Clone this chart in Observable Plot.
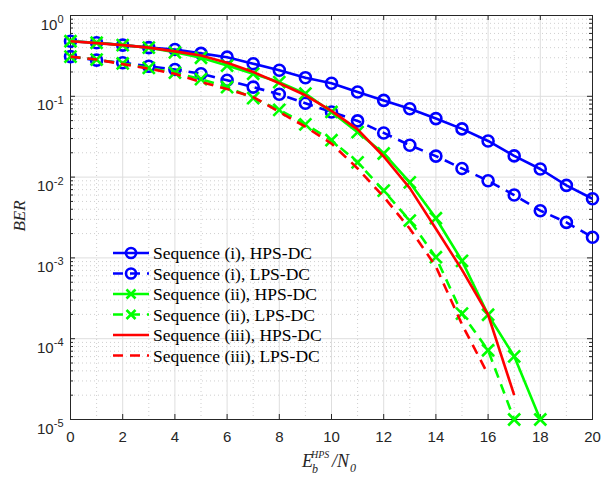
<!DOCTYPE html>
<html>
<head>
<meta charset="utf-8">
<script src="https://cdn.jsdelivr.net/npm/d3@7"></script>
<script src="https://cdn.jsdelivr.net/npm/@observablehq/plot@0.6"></script>
<style>
  html, body { margin: 0; padding: 0; background: #ffffff; }
  #chart { width: 601px; height: 479px; }
</style>
</head>
<body>
<div id="chart"></div>
<script>
// ---------------- data ----------------
const snr = [0,1,2,3,4,5,6,7,8,9,10,11,12,13,14,15,16,17,18,19,20];
const seqIHPS = [0.48,0.46,0.43,0.40,0.38,0.34,0.305,0.253,0.21,0.17,0.145,0.113,0.089,0.070,0.053,0.0395,0.028,0.0183,0.0126,0.0079,0.0054];
const seqILPS = [0.31,0.28,0.26,0.235,0.215,0.19,0.158,0.13,0.106,0.082,0.064,0.0496,0.0352,0.0248,0.0182,0.0128,0.009,0.006,0.00384,0.00275,0.0018];
const seqIIHPS = [0.48,0.46,0.43,0.40,0.35,0.30,0.24,0.19,0.15,0.108,0.064,0.036,0.0196,0.0086,0.0031,0.00092,0.000198,0.0000605,0.00001];
const seqIILPS = [0.31,0.285,0.255,0.225,0.196,0.163,0.13,0.095,0.068,0.045,0.0286,0.0152,0.0068,0.0029,0.00102,0.000204,0.000072,0.00001];
const seqIIIHPS = [0.48,0.455,0.43,0.40,0.36,0.32,0.26,0.20,0.145,0.103,0.066,0.039,0.018,0.0073,0.0023,0.00071,0.000198,0.00002];
const seqIIILPS = [0.31,0.285,0.25,0.22,0.19,0.15,0.123,0.098,0.064,0.042,0.026,0.0128,0.0057,0.0023,0.00078,0.00015,0.000036];

const seriesNames = ["Sequence (i), HPS-DC","Sequence (i), LPS-DC","Sequence (ii), HPS-DC","Sequence (ii), LPS-DC","Sequence (iii), HPS-DC","Sequence (iii), LPS-DC"];
const seriesValues = [seqIHPS, seqILPS, seqIIHPS, seqIILPS, seqIIIHPS, seqIIILPS];
const seriesColors = ["#0000ff","#0000ff","#00ff00","#00ff00","#ff0000","#ff0000"];
const seriesDashed = [false,true,false,true,false,true];
const seriesMarker = ["circle","circle","times","times",null,null];

const xMajorTicks = [0,2,4,6,8,10,12,14,16,18,20];
const xMinorTicks = [1,3,5,7,9,11,13,15,17,19];
const yMajorTicks = [1e-5,1e-4,1e-3,1e-2,1e-1,1];
const yMinorTicks = [];
for (let e = -5; e < 0; e++) for (let m = 2; m <= 9; m++) yMinorTicks.push(m * Math.pow(10, e));

// ---------------- layout ----------------
const W = 601, H = 479;
const mL = 70, mR = 9, mT = 15, mB = 60;
const innerW = W - mL - mR, innerH = H - mT - mB;
const axisColor = "#262626";
const DASH = "10,7";

const tables = seriesValues.map((vals, i) => vals.map((v, j) => ({x: snr[j], y: v, s: i})));

const marks = [
  Plot.ruleY(yMinorTicks, {stroke: "#cfcfcf", strokeDasharray: "1,3"}),
  Plot.ruleX(xMinorTicks, {stroke: "#cfcfcf", strokeDasharray: "1,3"}),
  Plot.ruleY(yMajorTicks, {stroke: "#dedede"}),
  Plot.ruleX(xMajorTicks, {stroke: "#dedede"}),
  Plot.ruleX(xMajorTicks, {stroke: axisColor, insetTop: innerH - 5}),
  Plot.ruleX(xMajorTicks, {stroke: axisColor, insetBottom: innerH - 5}),
  Plot.ruleY(yMajorTicks, {stroke: axisColor, insetRight: innerW - 5}),
  Plot.ruleY(yMajorTicks, {stroke: axisColor, insetLeft: innerW - 5}),
  Plot.ruleY(yMinorTicks, {stroke: axisColor, insetRight: innerW - 3}),
  Plot.ruleY(yMinorTicks, {stroke: axisColor, insetLeft: innerW - 3}),
  Plot.frame({stroke: axisColor}),
  Plot.axisX({ticks: xMajorTicks, tickSize: 0, tickPadding: 12, fill: axisColor, fontSize: 15, tickFormat: d => String(d)}),
  Plot.axisY({ticks: yMajorTicks, tickSize: 0, tickPadding: 7, fill: axisColor, fontSize: 15, tickFormat: d => "10^" + Math.round(Math.log10(d))})
];

tables.forEach((t, i) => {
  marks.push(Plot.line(t, {x: "x", y: "y", stroke: seriesColors[i], strokeWidth: 2.6,
    strokeDasharray: seriesDashed[i] ? DASH : null, strokeLinejoin: "round", strokeLinecap: "butt"}));
  if (seriesMarker[i] === "circle") {
    marks.push(Plot.dot(t, {x: "x", y: "y", r: 5.5, stroke: seriesColors[i], strokeWidth: 2.6, fill: "none"}));
  } else if (seriesMarker[i] === "times") {
    marks.push(Plot.dot(t, {x: "x", y: "y", symbol: "times", r: 5.5, stroke: seriesColors[i], strokeWidth: 2.6, fill: "none"}));
  }
});

const svg = Plot.plot({
  width: W, height: H,
  marginLeft: mL, marginRight: mR, marginTop: mT, marginBottom: mB,
  style: {background: "#ffffff", fontFamily: "'Liberation Sans', Arial, sans-serif", fontSize: "15px", overflow: "visible"},
  x: {domain: [0, 20], label: null},
  y: {type: "log", domain: [1e-5, 1], label: null},
  marks
});

// superscript exponents for y tick labels
d3.select(svg).selectAll('[aria-label="y-axis tick label"] text').each(function() {
  const txt = this.textContent;
  const m = txt.match(/^10\^(-?\d+)$/);
  if (!m) return;
  const el = d3.select(this);
  el.text(null).attr("dy", "0.62em").attr("font-size", "15px");
  el.append("tspan").attr("font-size", "15px").text("10");
  el.append("tspan").attr("dy", "-0.6em").attr("font-size", "11px").text(m[1]);
});

const serif = "'Liberation Serif', 'Times New Roman', serif";
const g = d3.select(svg).append("g").attr("text-anchor", "start");

// y label
g.append("text")
  .attr("transform", "translate(25,216) rotate(-90)")
  .attr("text-anchor", "middle")
  .attr("font-family", serif)
  .attr("font-style", "italic")
  .attr("font-size", 17)
  .attr("fill", axisColor)
  .text("BER");

// x label E_b^{HPS}/N_0
const xl = g.append("g").attr("font-family", serif).attr("font-style", "italic").attr("fill", axisColor).attr("text-anchor", "start");
xl.append("text").attr("x", 302).attr("y", 467).attr("font-size", 18).text("E");
xl.append("text").attr("x", 312).attr("y", 473).attr("font-size", 12).text("b");
xl.append("text").attr("x", 311).attr("y", 458).attr("font-size", 10).text("HPS");
const nt = xl.append("text").attr("x", 332).attr("y", 467).attr("font-size", 18);
nt.append("tspan").text("/N");
nt.append("tspan").attr("dy", 5).attr("dx", 1).attr("font-size", 12).text("0");

// legend
const lg = g.append("g").attr("text-anchor", "start");
const legX0 = 113, legX1 = 149, legY0 = 253, legDY = 20.5;
seriesNames.forEach((name, i) => {
  const y = legY0 + i * legDY;
  lg.append("line").attr("x1", legX0).attr("x2", legX1).attr("y1", y).attr("y2", y)
    .attr("stroke", seriesColors[i]).attr("stroke-width", 2.6)
    .attr("stroke-dasharray", seriesDashed[i] ? DASH : null);
  const cx = (legX0 + legX1) / 2;
  if (seriesMarker[i] === "circle") {
    lg.append("circle").attr("cx", cx).attr("cy", y).attr("r", 5).attr("fill", "none")
      .attr("stroke", seriesColors[i]).attr("stroke-width", 2.6);
  } else if (seriesMarker[i] === "times") {
    const s = 4.5;
    lg.append("path").attr("d", `M${cx - s},${y - s}L${cx + s},${y + s}M${cx - s},${y + s}L${cx + s},${y - s}`)
      .attr("stroke", seriesColors[i]).attr("stroke-width", 2.6);
  }
  lg.append("text").attr("x", 153).attr("y", y).attr("dy", "0.35em")
    .attr("font-family", serif).attr("font-size", 17.5).attr("fill", "#000")
    .text(name);
});

document.getElementById("chart").appendChild(svg);
</script>
</body>
</html>
